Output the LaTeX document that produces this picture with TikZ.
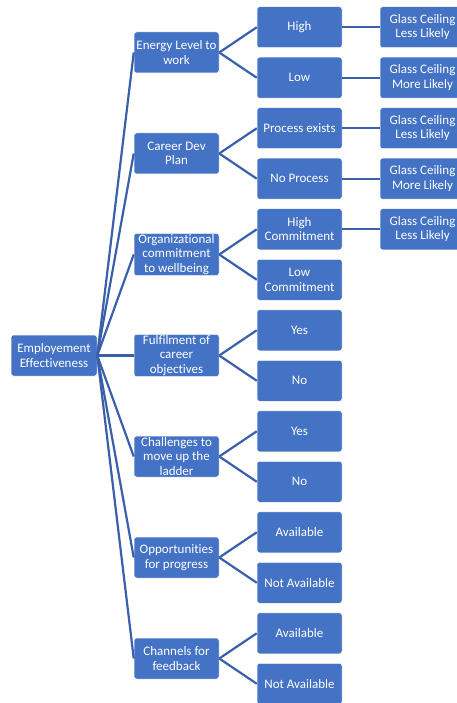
\documentclass[tikz,border=0pt]{standalone}
\usepackage{fontspec}
\setmainfont{Carlito}[Ligatures=NoCommon]
\usepackage{tikz}
\usetikzlibrary{calc}

\definecolor{boxblue}{HTML}{4472C4}
\definecolor{lineblue}{HTML}{3A60AC}

\tikzset{
  box/.style={rectangle, rounded corners=2.5pt, fill=boxblue, draw=white,
    line width=0.5pt, minimum width=85pt, minimum height=41pt,
    inner sep=1pt, text=white, align=center,
    font=\fontsize{13}{14.5}\selectfont},
  link/.style={draw=lineblue, line width=2.2pt}
}

\begin{document}
\begin{tikzpicture}[x=1pt, y=-1pt]

% ---- Frame ----
\clip (0,0) rectangle (457,703);
\fill[white] (0,0) rectangle (457,703);

% ---- Root ----
\node[box, minimum width=86pt] (root) at (54,355.5) {Employement\\Effectiveness};

% ---- First level ----
\node[box] (energy)  at (176.5,52.5)  {Energy Level to\\work};
\node[box] (career)  at (176.5,153.5) {Career Dev\\Plan};
\node[box] (commit)  at (176.5,254.5) {Organizational\\commitment\\to wellbeing};
\node[box] (fulfil)  at (176.5,355.5) {Fulfilment of\\career\\objectives};
\node[box] (ladder)  at (176.5,456.5) {Challenges to\\move up the\\ladder};
\node[box] (oppor)   at (176.5,557.5) {Opportunities\\for progress};
\node[box] (channel) at (176.5,658.5) {Channels for\\feedback};

% ---- Second level ----
\node[box] (enHigh)  at (299.5,27.25)  {High};
\node[box] (enLow)   at (299.5,77.75)  {Low};
\node[box] (caYes)   at (299.5,128.25) {Process exists};
\node[box] (caNo)    at (299.5,178.75) {No Process};
\node[box] (coHigh)  at (299.5,229.25) {High\\Commitment};
\node[box] (coLow)   at (299.5,279.75) {Low\\Commitment};
\node[box] (fuYes)   at (299.5,330.25) {Yes};
\node[box] (fuNo)    at (299.5,380.75) {No};
\node[box] (laYes)   at (299.5,431.25) {Yes};
\node[box] (laNo)    at (299.5,481.75) {No};
\node[box] (opYes)   at (299.5,532.25) {Available};
\node[box] (opNo)    at (299.5,582.75) {Not Available};
\node[box] (chYes)   at (299.5,633.25) {Available};
\node[box] (chNo)    at (299.5,683.75) {Not Available};

% ---- Third level (glass ceiling) ----
\node[box] (gcEnHigh) at (422.5,27.25)  {Glass Ceiling\\Less Likely};
\node[box] (gcEnLow)  at (422.5,77.75)  {Glass Ceiling\\More Likely};
\node[box] (gcCaYes)  at (422.5,128.25) {Glass Ceiling\\Less Likely};
\node[box] (gcCaNo)   at (422.5,178.75) {Glass Ceiling\\More Likely};
\node[box] (gcCoHigh) at (422.5,229.25) {Glass Ceiling\\Less Likely};

% ---- Root links ----
\draw[link] (root.east) -- (energy.west);
\draw[link] (root.east) -- (career.west);
\draw[link] (root.east) -- (commit.west);
\draw[link] (root.east) -- (fulfil.west);
\draw[link] (root.east) -- (ladder.west);
\draw[link] (root.east) -- (oppor.west);
\draw[link] (root.east) -- (channel.west);

% ---- Branch links ----
\draw[link] (energy.east)  -- (enHigh.west);
\draw[link] (energy.east)  -- (enLow.west);
\draw[link] (career.east)  -- (caYes.west);
\draw[link] (career.east)  -- (caNo.west);
\draw[link] (commit.east)  -- (coHigh.west);
\draw[link] (commit.east)  -- (coLow.west);
\draw[link] (fulfil.east)  -- (fuYes.west);
\draw[link] (fulfil.east)  -- (fuNo.west);
\draw[link] (ladder.east)  -- (laYes.west);
\draw[link] (ladder.east)  -- (laNo.west);
\draw[link] (oppor.east)   -- (opYes.west);
\draw[link] (oppor.east)   -- (opNo.west);
\draw[link] (channel.east) -- (chYes.west);
\draw[link] (channel.east) -- (chNo.west);

% ---- Outcome links ----
\draw[link] (enHigh.east) -- (gcEnHigh.west);
\draw[link] (enLow.east)  -- (gcEnLow.west);
\draw[link] (caYes.east)  -- (gcCaYes.west);
\draw[link] (caNo.east)   -- (gcCaNo.west);
\draw[link] (coHigh.east) -- (gcCoHigh.west);

\end{tikzpicture}
\end{document}
